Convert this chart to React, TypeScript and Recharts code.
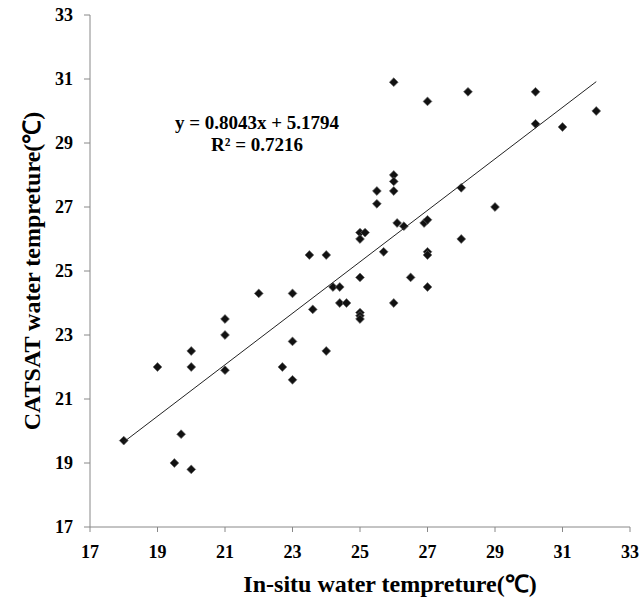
import React from 'react';
import { ScatterChart, Scatter, XAxis, YAxis } from 'recharts';

const inSitu = [
  18.0, 19.0, 19.5, 19.7, 20.0, 20.0, 20.0, 21.0, 21.0, 21.0,
  22.0, 22.7, 23.0, 23.0, 23.0, 23.5, 23.6, 24.0, 24.0, 24.2,
  24.4, 24.4, 24.6, 25.0, 25.0, 25.0, 25.0, 25.7, 26.0, 26.5,
  27.0, 27.0, 27.0, 26.0, 27.0, 28.2, 30.2, 30.2, 31.0, 32.0,
  26.0, 26.0, 26.0, 25.5, 25.5, 28.0, 29.0, 26.1, 26.3, 26.9,
  27.0, 25.0, 25.15, 25.0, 28.0,
];
const catsat = [
  19.7, 22.0, 19.0, 19.9, 18.8, 22.5, 22.0, 23.5, 23.0, 21.9,
  24.3, 22.0, 24.3, 22.8, 21.6, 25.5, 23.8, 25.5, 22.5, 24.5,
  24.5, 24.0, 24.0, 24.8, 23.7, 23.6, 23.5, 25.6, 24.0, 24.8,
  25.6, 25.5, 24.5, 30.9, 30.3, 30.6, 30.6, 29.6, 29.5, 30.0,
  28.0, 27.8, 27.5, 27.5, 27.1, 27.6, 27.0, 26.5, 26.4, 26.5,
  26.6, 26.2, 26.2, 26.0, 26.0,
];
const ticks = [17, 19, 21, 23, 25, 27, 29, 31, 33];
const slope = 0.8043;
const intercept = 5.1794;
const equationText = 'y = 0.8043x + 5.1794';
const r2Text = 'R² = 0.7216';
const xTitle = 'In-situ water tempreture(℃)';
const yTitle = 'CATSAT water tempreture(℃)';

const points = inSitu.map((x, i) => ({ x, y: catsat[i] }));
const xMin = Math.min(...inSitu);
const xMax = Math.max(...inSitu);
const trend = [xMin, xMax].map((x) => ({ x, y: slope * x + intercept }));

const FONT = '"Liberation Serif", "Times New Roman", serif';

const Diamond = (props: any) => {
  const { cx, cy } = props;
  if (cx == null || cy == null) return <g />;
  const s = 4.4;
  return (
    <polygon
      points={`${cx},${cy - s} ${cx + s},${cy} ${cx},${cy + s} ${cx - s},${cy}`}
      fill="#111"
      stroke="#666"
      strokeWidth={0.7}
    />
  );
};

const tickStyle = { fontFamily: FONT, fontSize: 18, fontWeight: 'bold', fill: '#000' };

export default function App() {
  return (
    <div style={{ position: 'absolute', left: 0, top: 0, width: 639, height: 605, background: '#fff' }}>
      <ScatterChart width={639} height={605} margin={{ top: 15, right: 9, left: 0, bottom: 0 }}>
        <XAxis
          type="number"
          dataKey="x"
          domain={[17, 33]}
          ticks={ticks}
          allowDataOverflow
          height={78}
          tickSize={5}
          tickMargin={13}
          stroke="#888"
          tick={tickStyle}
          label={(p: any) => {
            const vb = p.viewBox || {};
            return (
              <text
                x={vb.x + vb.width / 2 + 30}
                y={592}
                textAnchor="middle"
                style={{ fontFamily: FONT, fontSize: 24, fontWeight: 'bold', fill: '#000' }}
              >
                {xTitle}
              </text>
            );
          }}
        />
        <YAxis
          type="number"
          dataKey="y"
          domain={[17, 33]}
          ticks={ticks}
          allowDataOverflow
          width={90}
          tickSize={6}
          tickMargin={11}
          stroke="#888"
          tick={tickStyle}
          label={(p: any) => {
            const vb = p.viewBox || {};
            const cy = vb.y + vb.height / 2;
            return (
              <text
                x={32}
                y={cy}
                transform={`rotate(-90, 32, ${cy})`}
                textAnchor="middle"
                dominantBaseline="central"
                style={{ fontFamily: FONT, fontSize: 24, fontWeight: 'bold', fill: '#000' }}
              >
                {yTitle}
              </text>
            );
          }}
        />
        <Scatter data={points} shape={Diamond} isAnimationActive={false} />
        <Scatter
          data={trend}
          line={{ stroke: '#222', strokeWidth: 1 }}
          shape={() => <g />}
          isAnimationActive={false}
        />
      </ScatterChart>
      <div
        style={{
          position: 'absolute',
          left: 147,
          top: 112,
          width: 220,
          textAlign: 'center',
          fontFamily: FONT,
          fontSize: 19,
          fontWeight: 'bold',
          lineHeight: '22px',
          color: '#000',
        }}
      >
        <div>{equationText}</div>
        <div>{r2Text}</div>
      </div>
    </div>
  );
}
